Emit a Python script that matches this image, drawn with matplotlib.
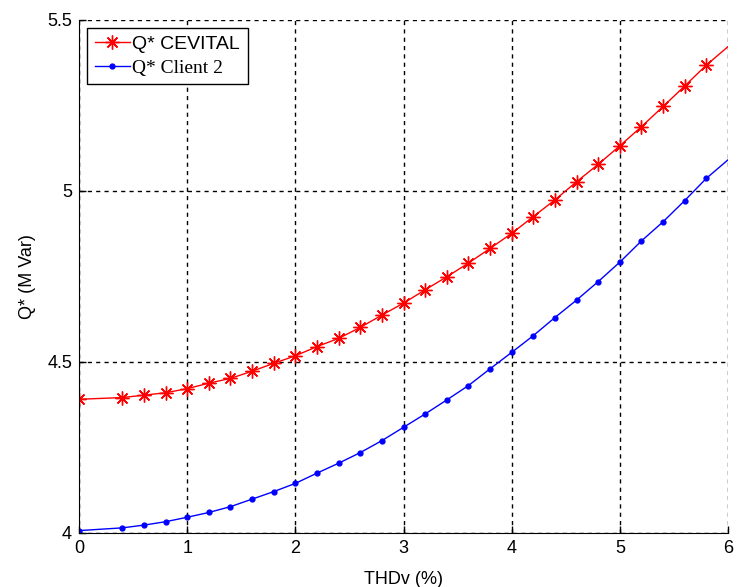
import numpy as np
import matplotlib.pyplot as plt

plt.rcParams['font.family'] = ['Liberation Sans', 'DejaVu Sans']

# THDv (%) values
thd = [0.0, 0.4, 0.6, 0.8, 1.0, 1.2, 1.4, 1.6, 1.8, 2.0, 2.2, 2.4, 2.6, 2.8,
       3.0, 3.2, 3.4, 3.6, 3.8, 4.0, 4.2, 4.4, 4.6, 4.8, 5.0, 5.2, 5.4, 5.6,
       5.8, 6.0]
q_cevital = [4.391, 4.396, 4.403, 4.410, 4.422, 4.438, 4.452, 4.473, 4.496,
             4.518, 4.545, 4.569, 4.601, 4.637, 4.672, 4.711, 4.749, 4.789,
             4.832, 4.876, 4.925, 4.974, 5.027, 5.078, 5.132, 5.188, 5.247,
             5.307, 5.368, 5.422]
q_client2 = [4.007, 4.015, 4.023, 4.033, 4.046, 4.060, 4.077, 4.099, 4.121,
             4.145, 4.175, 4.204, 4.235, 4.270, 4.309, 4.348, 4.389, 4.431,
             4.480, 4.528, 4.577, 4.630, 4.681, 4.735, 4.792, 4.854, 4.910,
             4.972, 5.037, 5.091]

fig = plt.figure(figsize=(7.37, 5.87), dpi=100)
ax = fig.add_axes([0.1072, 0.092, 0.8806, 0.874])

marks = list(range(len(thd) - 1))
# asterisk marker like matlab '*'
ax.plot(thd, q_cevital, color='red', lw=1, marker=(8, 2, 0), ms=10, mew=1,
        markevery=marks, label='Q* CEVITAL')
ax.plot(thd, q_client2, color='blue', lw=1, marker='.', ms=7,
        markevery=marks, label='Q* Client 2')

ax.set_xlim(0, 6)
ax.set_ylim(4, 5.5)
ax.set_xticks(np.arange(0, 7, 1))
ax.set_yticks([4, 4.5, 5, 5.5])
ax.set_yticklabels(['4', '4.5', '5', '5.5'])
ax.grid(True, color='black', linestyle=(0, (3, 3)), lw=1)
ax.spines['top'].set_visible(False)
ax.spines['right'].set_visible(False)
ax.tick_params(direction='in', length=5, labelsize=13, width=1, pad=5)
ax.set_xlabel('THDv (%)', fontsize=13, labelpad=10)
ax.set_ylabel('Q* (M Var)', fontsize=13, labelpad=8)

leg = ax.legend(loc='upper left', fontsize=14, fancybox=False, framealpha=1,
                edgecolor='black', borderaxespad=0.4, handlelength=1.8,
                handletextpad=0.15, borderpad=0.4, labelspacing=0.3)
leg.get_frame().set_linewidth(1)
leg.get_texts()[1].set_family('Liberation Serif')

fig.savefig('out.png', dpi=100)
